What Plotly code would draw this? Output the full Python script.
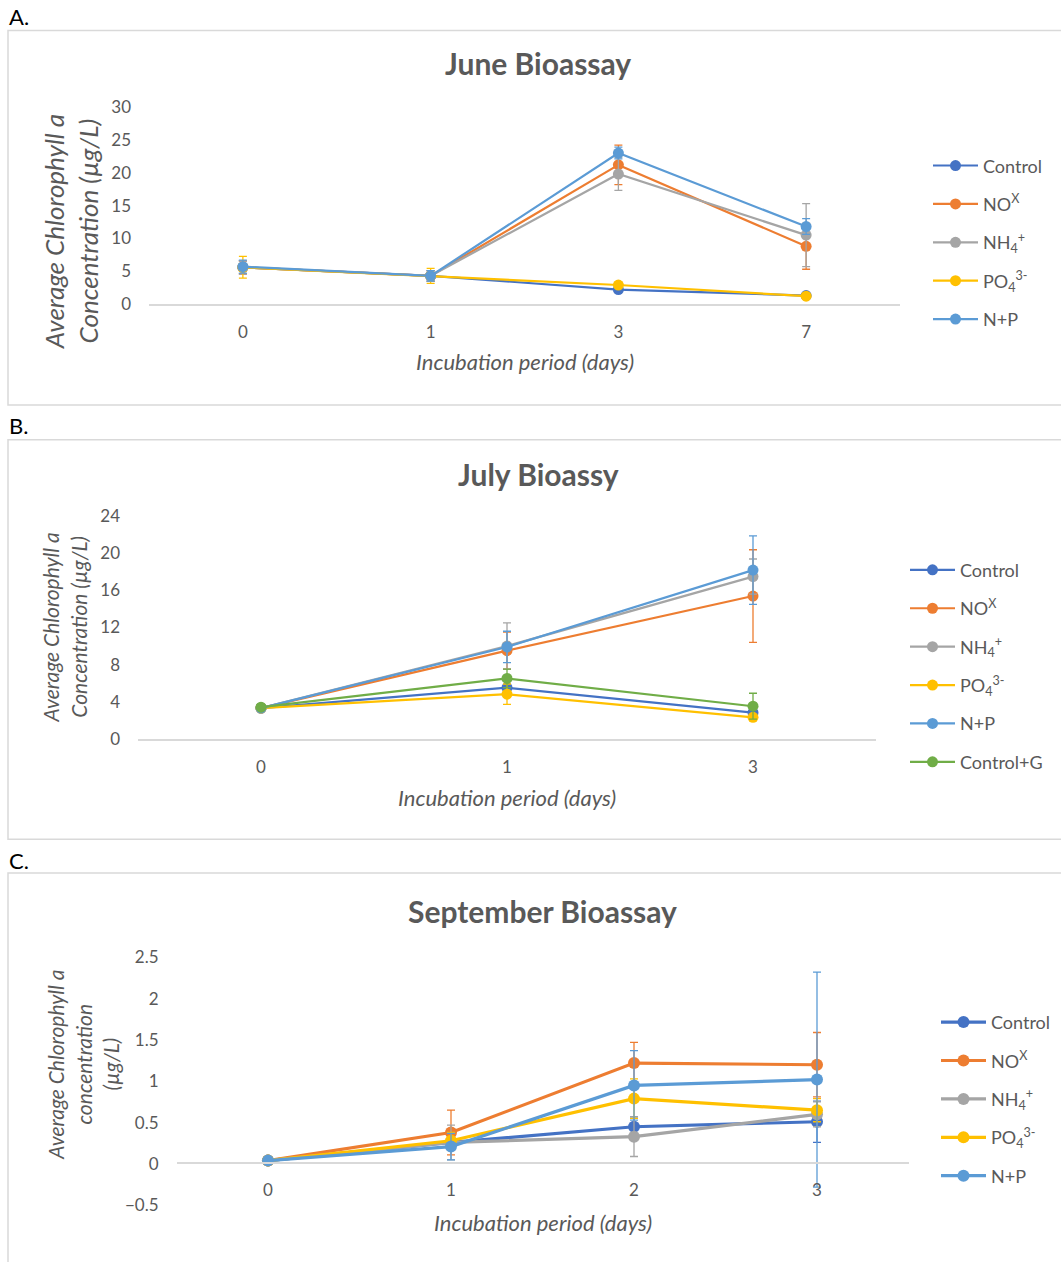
import plotly.graph_objects as go

W, H = 1061, 1262

# ---- data -------------------------------------------------------------
series_names = ["Control", "NO<sup>X</sup>", "NH<sub>4</sub><sup>+</sup>",
                "PO<sub>4</sub><sup>3-</sup>", "N+P", "Control+G"]
series_colors = ["#4472C4", "#ED7D31", "#A5A5A5", "#FFC000", "#5B9BD5", "#70AD47"]

# June bioassay
june_days = ["0", "1", "3", "7"]
june_control = [5.6, 4.3, 2.2, 1.3]
june_nox = [5.6, 4.3, 21.2, 8.8]
june_nh4 = [5.6, 4.3, 19.8, 10.5]
june_po4 = [5.6, 4.3, 2.9, 1.2]
june_np = [5.7, 4.3, 23.0, 11.8]
june_control_err = [1.0, 0.8, 0.3, 0.2]
june_nox_err = [1.0, 0.8, 3.0, 3.5]
june_nh4_err = [1.0, 0.8, 2.5, 4.8]
june_po4_err = [1.65, 1.15, 0.4, 0.3]
june_np_err = [1.0, 0.8, 0.9, 1.2]

# July bioassay
july_days = ["0", "1", "3"]
july_control = [3.3, 5.5, 2.8]
july_nox = [3.3, 9.5, 15.4]
july_nh4 = [3.3, 10.0, 17.5]
july_po4 = [3.3, 4.8, 2.3]
july_np = [3.3, 9.9, 18.2]
july_controlg = [3.4, 6.5, 3.5]
july_control_err = [0.2, 1.0, 0.5]
july_nox_err = [0.2, 2.0, 5.0]
july_nh4_err = [0.2, 2.5, 1.9]
july_po4_err = [0.2, 1.1, 0.3]
july_np_err = [0.2, 1.7, 3.7]
july_controlg_err = [0.2, 1.0, 1.4]

# September bioassay
sept_days = ["0", "1", "2", "3"]
sept_control = [0.04, 0.26, 0.45, 0.51]
sept_nox = [0.04, 0.38, 1.22, 1.20]
sept_nh4 = [0.04, 0.26, 0.33, 0.60]
sept_po4 = [0.04, 0.28, 0.79, 0.65]
sept_np = [0.04, 0.21, 0.95, 1.02]
sept_control_err = [0.01, 0.05, 0.12, 0.25]
sept_nox_err = [0.01, 0.27, 0.25, 0.39]
sept_nh4_err = [0.01, 0.21, 0.24, 0.15]
sept_po4_err = [0.01, 0.10, 0.24, 0.14]
sept_np_err = [0.01, 0.16, 0.42, 1.30]

FONT = "Lato"
GREY = "#595959"


def px_x(x):
    return x / W


def px_y(y):
    # vertical pixel position (from top) -> paper fraction
    y = (y - 10.45) / 0.985
    return 1 - y / H


fig = go.Figure()


def add_panel(idx, days, values, errors, legend, lw, ms):
    xa = "x" if idx == 1 else f"x{idx}"
    ya = "y" if idx == 1 else f"y{idx}"
    for k, (vals, errs) in enumerate(zip(values, errors)):
        c = series_colors[k]
        fig.add_trace(go.Scatter(
            x=days, y=vals, xaxis=xa, yaxis=ya,
            mode="lines+markers", name=series_names[k],
            line=dict(color=c, width=lw),
            marker=dict(color=c, size=ms),
            error_y=dict(type="data", array=errs, visible=True,
                         color=c, thickness=1.3, width=4),
            legend=legend, legendgroup=f"{legend}-{k}",
        ))


add_panel(1, june_days,
          [june_control, june_nox, june_nh4, june_po4, june_np],
          [june_control_err, june_nox_err, june_nh4_err, june_po4_err, june_np_err],
          "legend", 2.2, 11)
add_panel(2, july_days,
          [july_control, july_nox, july_nh4, july_po4, july_np, july_controlg],
          [july_control_err, july_nox_err, july_nh4_err, july_po4_err, july_np_err,
           july_controlg_err],
          "legend2", 2.2, 11)
add_panel(3, sept_days,
          [sept_control, sept_nox, sept_nh4, sept_po4, sept_np],
          [sept_control_err, sept_nox_err, sept_nh4_err, sept_po4_err, sept_np_err],
          "legend3", 3.2, 12)

tickfont = dict(family=FONT, size=17, color=GREY)


def xaxis_cfg(x0, x1, n, **kw):
    d = dict(domain=[px_x(x0), px_x(x1)], type="category",
             range=[-0.5, n - 0.5], showline=True, linecolor="#D9D9D9",
             linewidth=1.5, showgrid=False, zeroline=False, ticks="",
             tickfont=tickfont, ticklabelstandoff=12, fixedrange=True)
    d.update(kw)
    return d


def yaxis_cfg(y_top, y_bot, rng, dtick, **kw):
    d = dict(domain=[px_y(y_bot), px_y(y_top)], range=rng, dtick=dtick,
             showline=False, showgrid=False, zeroline=False, ticks="",
             tickfont=tickfont, ticklabelstandoff=17, fixedrange=True)
    d.update(kw)
    return d


layout = dict(
    width=W, height=H, margin=dict(l=0, r=0, t=0, b=0),
    paper_bgcolor="white", plot_bgcolor="white",
    font=dict(family=FONT, color=GREY),
    xaxis=xaxis_cfg(149, 900, 4, anchor="y"),
    yaxis=yaxis_cfg(106.7, 304, [0, 30], 5, anchor="x"),
    xaxis2=xaxis_cfg(138, 876, 3, anchor="y2"),
    yaxis2=yaxis_cfg(516.7, 739.3, [0, 24], 4, anchor="x2"),
    xaxis3=xaxis_cfg(176.5, 908.5, 4, anchor="free", position=px_y(1164.3)),
    yaxis3=yaxis_cfg(958.3, 1206.7, [-0.5, 2.5], 0.5, anchor="x3",
                     tickformat="~g"),
)

legend_base = dict(xanchor="left", yanchor="top", bgcolor="rgba(0,0,0,0)",
                   font=dict(family=FONT, size=18, color=GREY),
                   tracegroupgap=12, itemwidth=45, traceorder="grouped")
layout["legend"] = dict(legend_base, x=px_x(928), y=px_y(147))
layout["legend2"] = dict(legend_base, x=px_x(905), y=px_y(552))
layout["legend3"] = dict(legend_base, x=px_x(936), y=px_y(1005))

# panel frames
shapes = []
for top, bot in [(30, 405), (440, 840), (874, 1290)]:
    shapes.append(dict(type="rect", xref="paper", yref="paper",
                       x0=px_x(8), x1=px_x(1070), y0=px_y(bot), y1=px_y(top),
                       line=dict(color="#D9D9D9", width=1.5)))
layout["shapes"] = shapes

ann = []


def text(x, y, s, size, color=GREY, angle=0, bold=False, italic=False,
         xanchor="center"):
    if bold:
        s = f"<b>{s}</b>"
    if italic:
        s = f"<i>{s}</i>"
    ann.append(dict(x=px_x(x), y=px_y(y), xref="paper", yref="paper", text=s,
                    showarrow=False, textangle=angle, xanchor=xanchor,
                    yanchor="middle",
                    font=dict(family=FONT, size=size, color=color)))


# panel letters
text(7, 16, "A.", 22, color="#000000", xanchor="left")
text(7, 426, "B.", 22, color="#000000", xanchor="left")
text(7, 861, "C.", 22, color="#000000", xanchor="left")

# chart titles
text(538, 63, "June Bioassay", 30, bold=True)
text(538, 474, "July Bioassy", 30, bold=True)
text(542, 912, "September Bioassay", 30, bold=True)

# axis titles
text(525, 362, "Incubation period (days)", 22, italic=True)
text(507, 798, "Incubation period (days)", 22, italic=True)
text(543, 1224, "Incubation period (days)", 22, italic=True)
text(71, 232, "Average Chlorophyll a<br>Concentration (µg/L)", 26,
     angle=-90, italic=True)
text(64, 628, "Average Chlorophyll a<br>Concentration (µg/L)", 21,
     angle=-90, italic=True)
text(83, 1066, "Average Chlorophyll a<br>concentration<br>(µg/L)", 21,
     angle=-90, italic=True)
layout["annotations"] = ann

fig.update_layout(**layout)
fig.write_html("out.html")
